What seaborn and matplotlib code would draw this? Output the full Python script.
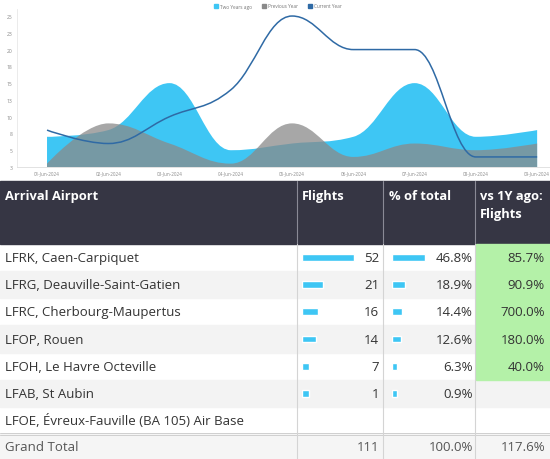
import numpy as np
import pandas as pd
import matplotlib
matplotlib.use("Agg")
import matplotlib.pyplot as plt
import seaborn as sns
from matplotlib.path import Path
from matplotlib.patches import PathPatch, Rectangle, Patch

# chart data
days = ["01-Jun-2024", "02-Jun-2024", "03-Jun-2024", "04-Jun-2024", "05-Jun-2024",
        "06-Jun-2024", "07-Jun-2024", "08-Jun-2024", "09-Jun-2024"]
two_years_ago = [7, 8, 15, 5, 6, 7, 15, 7, 8]
previous_year = [3, 9, 6, 3, 9, 4, 6, 5, 6]
current_year = [8, 6, 10, 14, 25, 20, 20, 4, 4]
y_ticks = [2.5, 5, 7.5, 10, 12.5, 15, 17.5, 20, 22.5, 25]
y_tick_labels = ["3", "5", "8", "10", "13", "15", "18", "20", "23", "25"]

# table data
airports = ["LFRK, Caen-Carpiquet", "LFRG, Deauville-Saint-Gatien",
            "LFRC, Cherbourg-Maupertus", "LFOP, Rouen", "LFOH, Le Havre Octeville",
            "LFAB, St Aubin", "LFOE, Évreux-Fauville (BA 105) Air Base"]
flights = [52, 21, 16, 14, 7, 1, np.nan]
pct_total = [46.8, 18.9, 14.4, 12.6, 6.3, 0.9, np.nan]
vs_1y = [85.7, 90.9, 700.0, 180.0, 40.0, np.nan, np.nan]
total_flights = 111
total_pct = 100.0
total_vs_1y = 117.6

BLUE = "#3ec6f4"
GREY = "#8a8a8a"
LINE = "#2f6aa5"
W, H = 550, 460


def spline_parts(xs, ys, smoothing=1.5):
    # highcharts style spline control points
    n = len(xs)
    left, right = [None] * n, [None] * n
    for i in range(n):
        x, y = xs[i], ys[i]
        if 0 < i < n - 1:
            lx, ly = xs[i - 1], ys[i - 1]
            nx, ny = xs[i + 1], ys[i + 1]
            d = smoothing + 1
            lcx, lcy = (smoothing * x + lx) / d, (smoothing * y + ly) / d
            rcx, rcy = (smoothing * x + nx) / d, (smoothing * y + ny) / d
            corr = (rcy - lcy) * (rcx - x) / (rcx - lcx) + y - rcy
            lcy += corr
            rcy += corr
            if lcy > ly and lcy > y:
                lcy = max(ly, y); rcy = 2 * y - lcy
            elif lcy < ly and lcy < y:
                lcy = min(ly, y); rcy = 2 * y - lcy
            if rcy > ny and rcy > y:
                rcy = max(ny, y); lcy = 2 * y - rcy
            elif rcy < ny and rcy < y:
                rcy = min(ny, y); lcy = 2 * y - rcy
            left[i], right[i] = (lcx, lcy), (rcx, rcy)
        else:
            left[i] = right[i] = (x, y)
    verts, codes = [(xs[0], ys[0])], [Path.MOVETO]
    for i in range(1, n):
        verts += [right[i - 1], left[i], (xs[i], ys[i])]
        codes += [Path.CURVE4] * 3
    return verts, codes


def px_axes(fig, x0, y0, x1, y1):
    return fig.add_axes([x0 / W, 1 - y1 / H, (x1 - x0) / W, (y1 - y0) / H])


sns.set_theme(style="white")
plt.rcParams["font.family"] = ["Open Sans", "DejaVu Sans"]

fig = plt.figure(figsize=(5.5, 4.6), dpi=100)
fig.patch.set_facecolor("white")

# ---- area / spline chart ----
ax = px_axes(fig, 17, 10, 550, 168)
xs = list(range(len(days)))
base = 2.5
for vals, color, alpha, z in [(two_years_ago, BLUE, 1.0, 1), (previous_year, GREY, 0.75, 2)]:
    v, c = spline_parts(xs, vals)
    v = v + [(xs[-1], base), (xs[0], base), (xs[0], vals[0])]
    c = c + [Path.LINETO, Path.LINETO, Path.CLOSEPOLY]
    ax.add_patch(PathPatch(Path(v, c), facecolor=color, edgecolor="none", alpha=alpha, zorder=z))
v, c = spline_parts(xs, current_year)
ax.add_patch(PathPatch(Path(v, c), facecolor="none", edgecolor=LINE, lw=1.1, zorder=3))

ax.set_xlim(-0.49, 8.21)
ax.set_ylim(base, base + 158 / 6.71)
ax.set_xticks(xs)
ax.set_xticklabels(days, fontsize=3.3, color="#8a8a8a")
ax.set_yticks(y_ticks)
ax.set_yticklabels(y_tick_labels, fontsize=3.6, color="#8a8a8a")
ax.tick_params(axis="both", length=2, width=0.4, color="#cccccc", pad=1.5)
ax.tick_params(axis="x", length=0, pad=2.5)
for s in ["top", "right"]:
    ax.spines[s].set_visible(False)
ax.spines["left"].set_color("#e8e8e8")
ax.spines["left"].set_linewidth(0.6)
ax.spines["bottom"].set_color("#dddddd")
ax.spines["bottom"].set_linewidth(0.6)
ax.set_facecolor("none")

handles = [Patch(color=BLUE, label="Two Years ago"),
           Patch(color=GREY, label="Previous Year"),
           Patch(color=LINE, label="Current Year")]
fig.legend(handles=handles, loc="center", bbox_to_anchor=(278 / W, 1 - 7 / H), ncol=3,
           fontsize=3.4, frameon=False, handlelength=0.9, handleheight=0.9,
           columnspacing=2.0, handletextpad=0.5, labelcolor="#777777")

# ---- table ----
tab = px_axes(fig, 0, 180, 550, 460)
tab.set_xlim(0, W)
tab.set_ylim(460, 180)
tab.set_axis_off()

cols = [0, 297, 383, 475, 550]
head_top, head_bot = 182, 245
row_h = 27.15
tab.add_patch(Rectangle((0, head_top), W, head_bot - head_top, color="#363644", zorder=1))
hdr_kw = dict(color="white", fontsize=9.3, fontweight="bold", va="center", zorder=3)
tab.text(5, 197, "Arrival Airport", **hdr_kw)
tab.text(302, 197, "Flights", **hdr_kw)
tab.text(389, 197, "% of total", **hdr_kw)
tab.text(480, 197, "vs 1Y ago:", **hdr_kw)
tab.text(480, 215, "Flights", **hdr_kw)
for x in cols[1:4]:
    tab.plot([x, x], [head_top, head_bot], color="#8a8a96", lw=0.8, zorder=2)

body_kw = dict(color="#333333", fontsize=9.5, va="center", zorder=3)
for i, name in enumerate(airports):
    top = head_bot + i * row_h
    yc = top + row_h / 2
    if i % 2 == 1:
        tab.add_patch(Rectangle((0, top), W, row_h, color="#f3f3f3", zorder=0))
    if not np.isnan(vs_1y[i]):
        tab.add_patch(Rectangle((476, top), W - 476, row_h, color="#b4f1a8", zorder=1))
        tab.text(545, yc, f"{vs_1y[i]:.1f}%", ha="right", **body_kw)
    tab.text(5, yc, name, **body_kw)
    if not np.isnan(flights[i]):
        tab.text(379, yc, f"{flights[i]:.0f}", ha="right", **body_kw)
        tab.text(473, yc, f"{pct_total[i]:.1f}%", ha="right", **body_kw)

gt_top = head_bot + len(airports) * row_h
tab.add_patch(Rectangle((0, gt_top), W, 460 - gt_top, color="#f5f5f5", zorder=0))
tab.plot([0, W], [gt_top - 0.8, gt_top - 0.8], color="#cfcfcf", lw=0.7, zorder=2)
tab.plot([0, W], [gt_top + 1.2, gt_top + 1.2], color="#cfcfcf", lw=0.7, zorder=2)
gt_kw = dict(color="#555555", fontsize=9.5, va="center", zorder=3)
yc = gt_top + (460 - gt_top) / 2
tab.text(5, yc, "Grand Total", **gt_kw)
tab.text(379, yc, f"{total_flights}", ha="right", **gt_kw)
tab.text(473, yc, f"{total_pct:.1f}%", ha="right", **gt_kw)
tab.text(545, yc, f"{total_vs_1y:.1f}%", ha="right", **gt_kw)
for x in cols[1:4]:
    tab.plot([x, x], [head_bot, 460], color="#d4d4d4", lw=0.8, zorder=2)

# data bars inside the table, drawn with seaborn
bars = pd.DataFrame({"airport": airports, "flights": flights, "pct": pct_total}).dropna()
bar_specs = [("flights", 302, 1.0, 7), ("pct", 392, 0.7, 5)]
for col, x0, px_per_unit, min_px in bar_specs:
    bax = px_axes(fig, x0, head_bot, x0 + 60, gt_top)
    shown = np.maximum(bars[col].values, min_px / px_per_unit)
    sns.barplot(x=shown, y=bars["airport"], order=airports, orient="h", color=BLUE,
                saturation=1, width=0.25, errorbar=None, ax=bax)
    bax.set_xlim(0, 60 / px_per_unit)
    bax.set_ylim(len(airports) - 0.5, -0.5)
    bax.set_axis_off()

fig.savefig("out.png", dpi=100)
